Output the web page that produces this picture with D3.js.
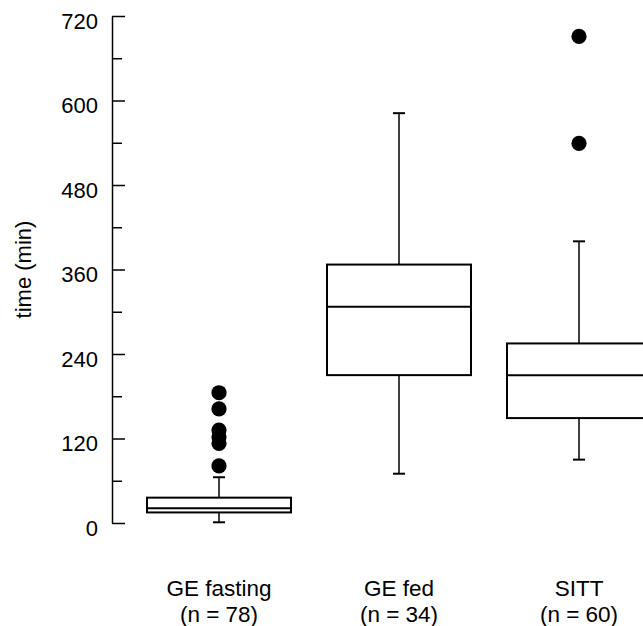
<!DOCTYPE html>
<html>
<head>
<meta charset="utf-8">
<script src="https://cdn.jsdelivr.net/npm/d3@7"></script>
<style>
  body { margin: 0; background: #fff; }
  svg { display: block; font-family: "Liberation Sans", Arial, sans-serif; }
</style>
</head>
<body>
<div id="chart"></div>
<script>
// box plot: time per test
const categories = ["GE fasting", "GE fed", "SITT"];
const nLabels = ["(n = 78)", "(n = 34)", "(n = 60)"];
const whiskerLow = [1, 70, 90];
const q1 = [15, 210, 149];
const median = [21, 307, 210];
const q3 = [36, 367, 255];
const whiskerHigh = [65, 582, 400];
const outliers = [[81, 113, 122, 132, 162, 185], [], [539, 691]];
const majorTicks = [0, 120, 240, 360, 480, 600, 720];
const minorTicks = [60, 180, 300, 420, 540, 660];

const width = 643, height = 626;
const fontSize = 22;
const labelSize = 22.5;

const svg = d3.select("#chart").append("svg")
  .attr("width", width)
  .attr("height", height);

const y = d3.scaleLinear().domain([0, 720]).range([523, 16]);
const x = d3.scaleBand()
  .domain(categories)
  .range([129, 669])
  .paddingInner(0.2)
  .paddingOuter(0.1);

const axisX = 112;

// minor ticks
svg.append("g")
  .attr("transform", `translate(${axisX},0)`)
  .call(d3.axisLeft(y).tickValues(minorTicks).tickSizeInner(-10).tickSizeOuter(0).tickFormat(""))
  .call(g => g.select(".domain").remove())
  .selectAll("line").attr("stroke", "#000").attr("stroke-width", 1.5);

// major ticks + labels
const yAxis = svg.append("g")
  .attr("transform", `translate(${axisX},0)`)
  .call(d3.axisLeft(y).tickValues(majorTicks).tickSizeInner(-13).tickSizeOuter(0).tickPadding(14));
yAxis.select(".domain").attr("stroke", "#000").attr("stroke-width", 1.5);
yAxis.selectAll("line").attr("stroke", "#000").attr("stroke-width", 1.5);
yAxis.selectAll("text")
  .attr("dy", "0.56em")
  .style("font-size", fontSize + "px")
  .style("font-family", "'Liberation Sans', Arial, sans-serif")
  .attr("fill", "#000");

svg.append("text")
  .attr("transform", `translate(31,${(y(0) + y(720)) / 2}) rotate(-90)`)
  .attr("text-anchor", "middle")
  .style("font-size", fontSize + "px")
  .text("time (min)");

const capW = 12;

categories.forEach((c, i) => {
  const cx = x(c) + x.bandwidth() / 2;
  const g = svg.append("g");

  // whiskers
  g.append("line")
    .attr("x1", cx).attr("x2", cx)
    .attr("y1", y(q3[i])).attr("y2", y(whiskerHigh[i]))
    .attr("stroke", "#000").attr("stroke-width", 1.5);
  g.append("line")
    .attr("x1", cx).attr("x2", cx)
    .attr("y1", y(q1[i])).attr("y2", y(whiskerLow[i]))
    .attr("stroke", "#000").attr("stroke-width", 1.5);
  [whiskerHigh[i], whiskerLow[i]].forEach(v => {
    g.append("line")
      .attr("x1", cx - capW / 2).attr("x2", cx + capW / 2)
      .attr("y1", y(v)).attr("y2", y(v))
      .attr("stroke", "#000").attr("stroke-width", 2);
  });

  // box
  g.append("rect")
    .attr("x", x(c))
    .attr("y", y(q3[i]))
    .attr("width", x.bandwidth())
    .attr("height", y(q1[i]) - y(q3[i]))
    .attr("fill", "#fff")
    .attr("stroke", "#000")
    .attr("stroke-width", 2);
  g.append("line")
    .attr("x1", x(c)).attr("x2", x(c) + x.bandwidth())
    .attr("y1", y(median[i])).attr("y2", y(median[i]))
    .attr("stroke", "#000").attr("stroke-width", 2);

  // outliers
  g.selectAll("circle")
    .data(outliers[i])
    .enter().append("circle")
    .attr("cx", cx)
    .attr("cy", d => y(d))
    .attr("r", 7.6)
    .attr("fill", "#000");

  // category labels
  svg.append("text")
    .attr("x", cx).attr("y", 596)
    .attr("text-anchor", "middle")
    .style("font-size", labelSize + "px")
    .text(c);
  svg.append("text")
    .attr("x", cx).attr("y", 622)
    .attr("text-anchor", "middle")
    .style("font-size", labelSize + "px")
    .text(nLabels[i]);
});
</script>
</body>
</html>
